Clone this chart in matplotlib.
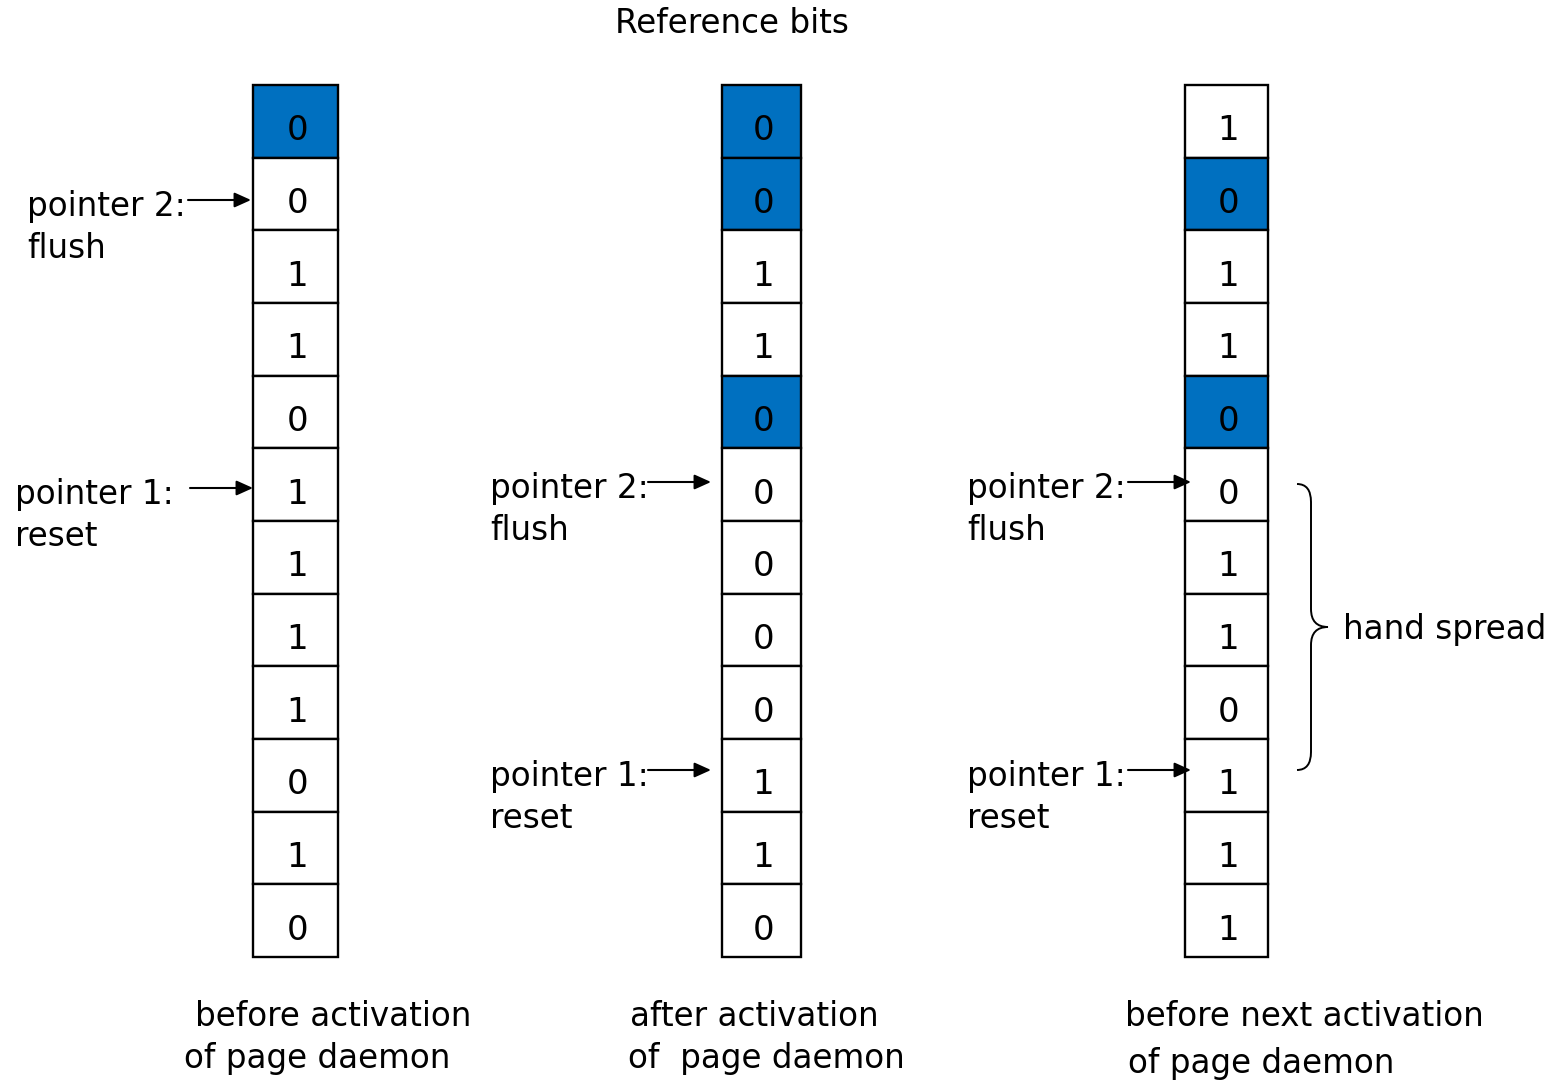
import matplotlib
matplotlib.use("Agg")
from matplotlib import pyplot as plt
from matplotlib.patches import Rectangle, PathPatch
from matplotlib.path import Path

# reference bits for the three snapshots (top to bottom)
bits_before = [0, 0, 1, 1, 0, 1, 1, 1, 1, 0, 1, 0]
bits_after = [0, 0, 1, 1, 0, 0, 0, 0, 0, 1, 1, 0]
bits_next = [1, 0, 1, 1, 0, 0, 1, 1, 0, 1, 1, 1]

# which cells are shaded blue
shaded_before = [0]
shaded_after = [0, 1, 4]
shaded_next = [1, 4]

captions = [
    ["before activation", "of page daemon"],
    ["after activation", "of  page daemon"],
    ["before next activation", "of page daemon"],
]
title = "Reference bits"
spread_label = "hand spread"

BLUE = "#0070C0"
W, H = 1557, 1081

fig = plt.figure(figsize=(W / 100, H / 100), dpi=100)
ax = fig.add_axes([0, 0, 1, 1])
ax.set_xlim(0, W)
ax.set_ylim(H, 0)
ax.axis("off")

top, bottom = 85, 957
n = len(bits_before)
cell_h = (bottom - top) / n

columns = [
    (253, 338, bits_before, shaded_before),
    (722, 801, bits_after, shaded_after),
    (1185, 1268, bits_next, shaded_next),
]

for x0, x1, bits, shaded in columns:
    for i, b in enumerate(bits):
        y = top + i * cell_h
        fc = BLUE if i in shaded else "white"
        ax.add_patch(Rectangle((x0, y), x1 - x0, cell_h, facecolor=fc,
                               edgecolor="black", lw=1.7))
        ax.text((x0 + x1) / 2 + 2, y + cell_h / 2 + 19, str(b), fontsize=24.5,
                ha="center", va="baseline", color="black")

txt = dict(fontsize=23.5, va="baseline", color="black")


def pointer(label_x, y, x_start, x_end, line1, line2):
    ax.text(label_x, y + 11, line1, **txt)
    ax.text(label_x, y + 53, line2, **txt)
    ax.annotate("", xy=(x_end, y - 5), xytext=(x_start, y - 5),
                arrowprops=dict(arrowstyle="-|>,head_length=1.0,head_width=0.45",
                                color="black", lw=1.5, shrinkA=0, shrinkB=0))


# column 1
pointer(27, 205, 188, 251, "pointer 2:", "flush")
pointer(15, 493, 190, 253, "pointer 1:", "reset")
# column 2
pointer(490, 487, 648, 711, "pointer 2:", "flush")
pointer(490, 775, 648, 711, "pointer 1:", "reset")
# column 3
pointer(967, 487, 1128, 1191, "pointer 2:", "flush")
pointer(967, 775, 1128, 1191, "pointer 1:", "reset")

ax.text(732, 33, title, ha="center", **txt)

# bottom captions
ax.text(195, 1026, captions[0][0], **txt)
ax.text(184, 1068, captions[0][1], **txt)
ax.text(630, 1026, captions[1][0], **txt)
ax.text(628, 1068, captions[1][1], **txt)
ax.text(1125, 1026, captions[2][0], **txt)
ax.text(1128, 1073, captions[2][1], **txt)

# curly brace for the hand spread
bx, tip_x, y0, ymid, y1 = 1311, 1328, 484, 627, 770
verts = [
    (1297, y0), (bx, y0), (bx, y0 + 18),
    (bx, ymid - 18),
    (bx, ymid), (tip_x, ymid),
    (bx, ymid), (bx, ymid + 18),
    (bx, y1 - 18),
    (bx, y1), (1297, y1),
]
codes = [Path.MOVETO, Path.CURVE3, Path.CURVE3, Path.LINETO,
         Path.CURVE3, Path.CURVE3, Path.CURVE3, Path.CURVE3,
         Path.LINETO, Path.CURVE3, Path.CURVE3]
ax.add_patch(PathPatch(Path(verts, codes), facecolor="none", edgecolor="black", lw=1.4))
ax.text(1343, 639, spread_label, **txt)

fig.savefig("out.png", dpi=100, facecolor="white")
